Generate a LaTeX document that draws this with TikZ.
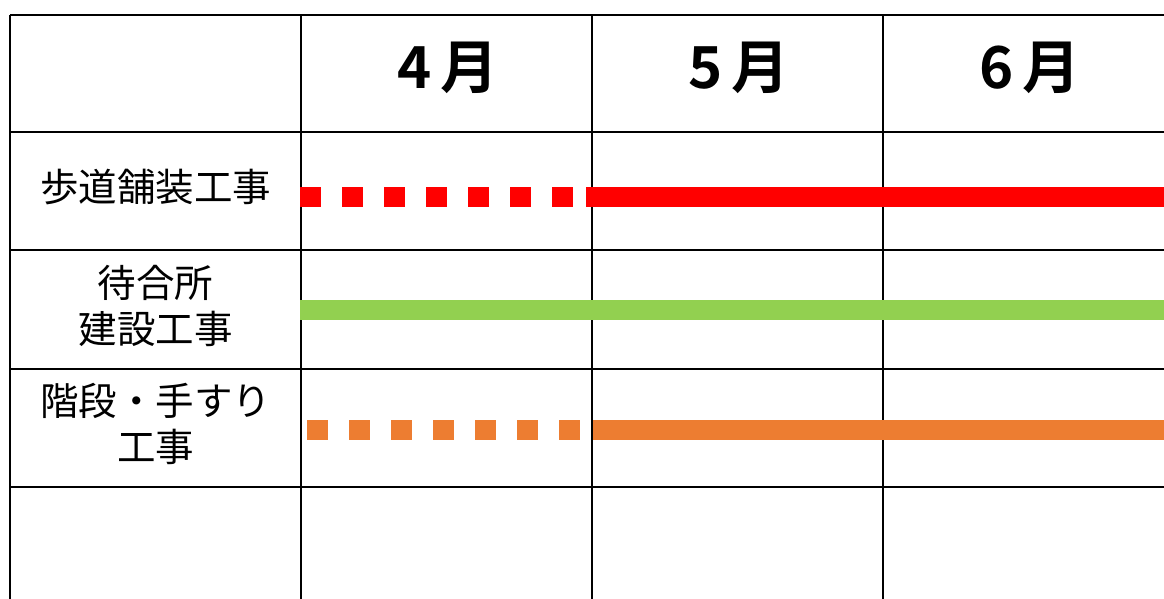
\documentclass[tikz,border=0pt]{standalone}
\usepackage{fontspec}
\setmainfont{Noto Sans CJK JP}
\newfontfamily\jpbold{Noto Sans CJK JP Bold}
\definecolor{barred}{HTML}{FF0000}
\definecolor{bargreen}{HTML}{92D050}
\definecolor{barorange}{HTML}{ED7D31}
\begin{document}
\begin{tikzpicture}[x=1pt,y=-1pt,
  gridline/.style={line width=2.8pt,black},
  month/.style={font=\jpbold\fontsize{58}{64}\selectfont,inner sep=0pt},
  rowlabel/.style={font=\fontsize{38.5}{46}\selectfont,align=center,inner sep=0pt},
  bar/.style={line width=20pt,line cap=butt},
  dashbar/.style={bar,dash pattern=on 21pt off 21pt}]
\useasboundingbox (0,0) rectangle (1164,599);
% grid
\foreach \y/\n in {15/h0,132/h1,250/h2,369/h3,487/h4}{
  \coordinate (\n a) at (10,\y); \coordinate (\n b) at (1164,\y);
  \draw[gridline] (\n a) -- (\n b);}
\foreach \x/\n in {10/v0,301/v1,592/v2,883/v3}{
  \coordinate (\n a) at (\x,15); \coordinate (\n b) at (\x,599);
  \draw[gridline] (\n a) -- (\n b);}
% headers
\node[month] (m4) at (448,68) {4\,月};
\node[month] (m5) at (739,68) {5\,月};
\node[month] (m6) at (1030,68) {6\,月};
% row labels
\node[rowlabel] (r1) at (155.5,187) {歩道舗装工事};
\node[rowlabel] (r2) at (155.5,305.5) {待合所\\建設工事};
\node[rowlabel] (r3) at (155.5,424) {階段・手すり\\工事};
% bars
\coordinate (ra) at (300,197); \coordinate (rb) at (574,197);
\coordinate (rc) at (586,197); \coordinate (rd) at (1164,197);
\draw[dashbar,barred] (ra) -- (rb);
\draw[bar,barred] (rc) -- (rd);
\coordinate (ga) at (300,309.5); \coordinate (gb) at (1164,309.5);
\draw[bar,bargreen] (ga) -- (gb);
\coordinate (oa) at (307,430); \coordinate (ob) at (580,430);
\coordinate (oc) at (593,430); \coordinate (od) at (1164,430);
\draw[dashbar,barorange] (oa) -- (ob);
\draw[bar,barorange] (oc) -- (od);
\end{tikzpicture}
\end{document}
